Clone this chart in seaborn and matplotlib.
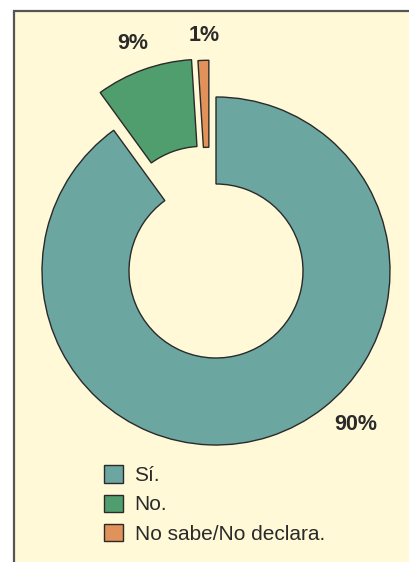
import numpy as np
import matplotlib
matplotlib.use("Agg")
import matplotlib.pyplot as plt
import matplotlib.patches as mpatches
import seaborn as sns

labels = ["Sí.", "No.", "No sabe/No declara."]
values = [90, 9, 1]
pct_text = ["90%", "9%", "1%"]
colors = ["#6BA6A0", "#509E6E", "#E1915A"]

sns.set_style("white")
plt.rcParams["font.family"] = ["Liberation Sans", "DejaVu Sans"]

bg = "#FFF9D7"
edge = "#2A2A2A"

fig = plt.figure(figsize=(4.09, 5.62), dpi=100, facecolor="white")

# frame: yellow panel with left and top border, open to right/bottom
frame = mpatches.Rectangle((14 / 409, -0.05), 1.2, 1.05 - 11 / 562,
                           transform=fig.transFigure, facecolor=bg,
                           edgecolor="#555555", linewidth=1.6, zorder=-5)
fig.patches.append(frame)

ax = fig.add_axes([0, 0, 1, 1])
ax.set_facecolor("none")

wedges, _ = ax.pie(values, colors=colors, startangle=90, counterclock=False,
                   explode=[0, 0.23, 0.22], radius=1.0,
                   wedgeprops=dict(width=0.5, edgecolor=edge, linewidth=1.0))

R = 174.0
ax.set_aspect("auto")
ax.set_xlim(-216 / R, (409 - 216) / R)
ax.set_ylim(-291 / R, (562 - 291) / R)
ax.axis("off")

# nudge the small slice the same way as the green one
ang = np.deg2rad(101)
wedges[2].set_center((0.215 * np.cos(ang), 0.215 * np.sin(ang)))

label_pos = [(0.805, -0.885), (-0.477, 1.31), (-0.069, 1.351)]
for txt, (x, y) in zip(pct_text, label_pos):
    ax.text(x, y, txt, ha="center", va="center", fontsize=15.5,
            fontweight="bold", color="#2A2A2A")

leg = ax.legend(wedges, labels, loc="upper left",
                bbox_to_anchor=(96 / 409, 1 - 457 / 562),
                bbox_transform=fig.transFigure, frameon=False,
                fontsize=15, handlelength=0.9, handleheight=0.9,
                handletextpad=0.55, labelspacing=0.45, borderaxespad=0)
for t in leg.get_texts():
    t.set_color("#2A2A2A")

fig.savefig("out.png", dpi=100, facecolor="white")
